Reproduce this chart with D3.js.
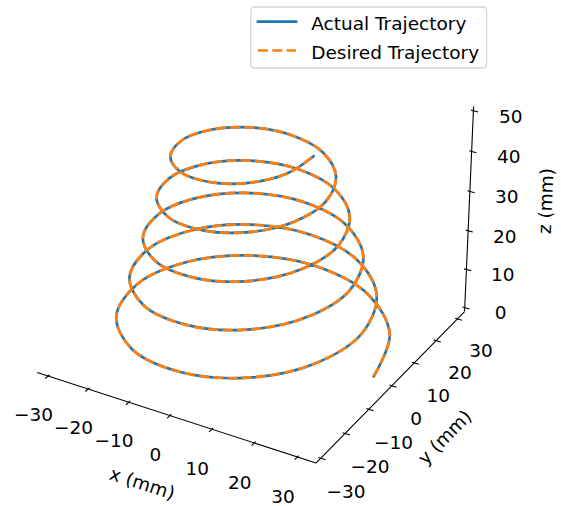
<!DOCTYPE html>
<html>
<head>
<meta charset="utf-8">
<script src="https://cdn.jsdelivr.net/npm/d3@7"></script>
<style>
  body { margin: 0; background: #fff; }
  svg text { font-family: "DejaVu Sans", sans-serif; fill: #000; }
</style>
</head>
<body>
<svg id="chart" width="561" height="506"></svg>
<script>
// trajectory samples, one every 30 degrees of the spiral (mm)
const trajX = [30, 25.76, 14.75, 0, -14.5, -24.9, -28.5, -24.47, -14, 0, 13.75, 23.6,
  27, 23.17, 13.25, 0, -13, -22.3, -25.5, -21.87, -12.5, 0, 12.25, 21,
  24, 20.57, 11.75, 0, -11.5, -19.7, -22.5, -19.27, -11, 0, 10.75, 18.4,
  21, 17.97, 10.25, 0, -10, -17.1, -19.5, -16.67, -9.5, 0, 9.25, 15.8,
  18, 15.37, 8.75, 0, -8.5, -14.51, -16.5, -14.07, -8, 0, 7.75, 13.21, 15];
const trajY = [0, 14.88, 25.55, 29.25, 25.11, 14.38, 0, -14.13, -24.25, -27.75, -23.82, -13.63,
  0, 13.38, 22.95, 26.25, 22.52, 12.88, 0, -12.63, -21.65, -24.75, -21.22, -12.13,
  0, 11.88, 20.35, 23.25, 19.92, 11.38, 0, -11.13, -19.05, -21.75, -18.62, -10.63,
  0, 10.38, 17.75, 20.25, 17.32, 9.88, 0, -9.63, -16.45, -18.75, -16.02, -9.13,
  0, 8.88, 15.16, 17.25, 14.72, 8.38, 0, -8.13, -13.86, -15.75, -13.42, -7.63, 0];
const trajZ = [0, 0.83, 1.67, 2.5, 3.33, 4.17, 5, 5.83, 6.67, 7.5, 8.33, 9.17,
  10, 10.83, 11.67, 12.5, 13.33, 14.17, 15, 15.83, 16.67, 17.5, 18.33, 19.17,
  20, 20.83, 21.67, 22.5, 23.33, 24.17, 25, 25.83, 26.67, 27.5, 28.33, 29.17,
  30, 30.83, 31.67, 32.5, 33.33, 34.17, 35, 35.83, 36.67, 37.5, 38.33, 39.17,
  40, 40.83, 41.67, 42.5, 43.33, 44.17, 45, 45.83, 46.67, 47.5, 48.33, 49.17, 50];

// actual and desired trajectories lie on top of each other in the picture
const seriesNames = ["Actual Trajectory", "Desired Trajectory"];
const seriesColors = ["#1f77b4", "#ff7f0e"];

const xTicks = [-30, -20, -10, 0, 10, 20, 30];
const yTicks = [-30, -20, -10, 0, 10, 20, 30];
const zTicks = [0, 10, 20, 30, 40, 50];
const zRange = [0, 50];
const axisLabels = ["x (mm)", "y (mm)", "z (mm)"];

const fontSize = 18.5;
const lineWidth = 2.7;

// 3d view like matplotlib's default (elev 30, azim -60, perspective)
const elev = 30 * Math.PI / 180, azim = -60 * Math.PI / 180, dist = 10;
const aspect = [4, 4, 3].map(a => a * 1.8294640721620434 / Math.hypot(4, 4, 3));
const w = [Math.cos(elev) * Math.cos(azim), Math.cos(elev) * Math.sin(azim), Math.sin(elev)];
const un = Math.hypot(w[0], w[1]);
const u = [-w[1] / un, w[0] / un, 0];
const v = [w[1] * u[2] - w[2] * u[1], w[2] * u[0] - w[0] * u[2], w[0] * u[1] - w[1] * u[0]];

// screen scale / centre of the projected box
const S = 2795, CX = 254.7, CY = 239.9;

const widen = ([a, b], f) => [a - (b - a) * f, b + (b - a) * f];
const lims = [
  widen(d3.extent(trajX), 0.05),
  widen(d3.extent(trajY), 0.05),
  zRange
].map(l => widen(l, 1 / 48));
const q = lims.map((l, i) => d3.scaleLinear().domain(l).range([-aspect[i] / 2, aspect[i] / 2]));

function project(p) {
  const Q = p.map((c, i) => q[i](c));
  const dot = a => a[0] * Q[0] + a[1] * Q[1] + a[2] * Q[2];
  const d = dist - dot(w);
  return [CX + S * dot(u) / d, CY - S * dot(v) / d];
}

const svg = d3.select("#chart");

// ---- axes ----
const centers = lims.map(l => (l[0] + l[1]) / 2);
const deltas = lims.map(l => (l[1] - l[0]) / 12);

function moveFromCenter(p, c, i) {
  return p.map((val, j) => j === i ? val : val + Math.sign(val - centers[j]) * c * deltas[j]);
}

const axes = [
  {i: 0, ticks: xTicks, edge: [null, lims[1][0], lims[2][0]], tickDir: 1, dy: 0},
  {i: 1, ticks: yTicks, edge: [lims[0][1], null, lims[2][0]], tickDir: 0, dy: 0},
  {i: 2, ticks: zTicks, edge: [lims[0][1], lims[1][1], null], tickDir: 0, dy: 3}
];

const fmt = d3.format("d");
const axisG = svg.append("g");

axes.forEach(a => {
  const at = t => a.edge.map((c, j) => j === a.i ? t : c);
  const p0 = project(at(lims[a.i][0])), p1 = project(at(lims[a.i][1]));

  axisG.append("line")
    .attr("x1", p0[0]).attr("y1", p0[1])
    .attr("x2", p1[0]).attr("y2", p1[1])
    .attr("stroke", "#000").attr("stroke-width", 1.1);

  const td = a.tickDir;
  const out = Math.sign(a.edge[td] - centers[td]) * deltas[td];

  a.ticks.forEach(t => {
    const base = at(t);
    const o = base.slice(); o[td] += 0.2 * out;
    const n = base.slice(); n[td] -= 0.1 * out;
    const po = project(o), pn = project(n);
    axisG.append("line")
      .attr("x1", po[0]).attr("y1", po[1])
      .attr("x2", pn[0]).attr("y2", pn[1])
      .attr("stroke", "#000").attr("stroke-width", 1.1);

    const lp = project(moveFromCenter(base, 1.05, a.i));
    axisG.append("text")
      .attr("x", lp[0])
      .attr("y", lp[1] + 0.74 * fontSize + a.dy)
      .attr("text-anchor", "middle")
      .attr("font-size", fontSize)
      .text(fmt(t));
  });

  // axis title
  const mid = at(centers[a.i]);
  const lp = project(moveFromCenter(mid, 2.2, a.i));
  let ang = Math.atan2(p1[1] - p0[1], p1[0] - p0[0]) * 180 / Math.PI;
  if (ang > 90) ang -= 180;
  if (ang < -90) ang += 180;
  axisG.append("text")
    .attr("transform", `translate(${lp[0]},${lp[1]}) rotate(${ang})`)
    .attr("text-anchor", "middle")
    .attr("dominant-baseline", "central")
    .attr("font-size", fontSize)
    .text(axisLabels[a.i]);
});

// ---- trajectories ----
const pts = trajX.map((x, k) => project([x, trajY[k], trajZ[k]]));
const line = d3.line().curve(d3.curveCatmullRom);

svg.append("path")
  .attr("d", line(pts))
  .attr("fill", "none")
  .attr("stroke", seriesColors[0])
  .attr("stroke-width", lineWidth)
  .attr("stroke-linecap", "square")
  .attr("stroke-linejoin", "round");

svg.append("path")
  .attr("d", line(pts))
  .attr("fill", "none")
  .attr("stroke", seriesColors[1])
  .attr("stroke-width", lineWidth)
  .attr("stroke-dasharray", "10,4.3")
  .attr("stroke-linejoin", "round");

// ---- legend ----
const legLeft = 250.8, legTop = 7, pad = 0.4 * fontSize;
const handleLen = 38, textGap = 15.2, rowStep = 28.8;
const leg = svg.append("g");
const frame = leg.append("rect")
  .attr("x", legLeft).attr("y", legTop)
  .attr("height", 61)
  .attr("rx", 3.6)
  .attr("fill", "#fff").attr("fill-opacity", 0.8)
  .attr("stroke", "#d6d6d6").attr("stroke-width", 1.3);

let maxW = 0;
seriesNames.forEach((name, k) => {
  const y = legTop + 14.7 + k * rowStep;
  const x0 = legLeft + 7.2;
  leg.append("line")
    .attr("x1", x0).attr("x2", x0 + handleLen)
    .attr("y1", y).attr("y2", y)
    .attr("stroke", seriesColors[k])
    .attr("stroke-width", lineWidth)
    .attr("stroke-linecap", k === 0 ? "square" : "butt")
    .attr("stroke-dasharray", k === 0 ? null : "10,4.3");
  const t = leg.append("text")
    .attr("x", x0 + handleLen + textGap)
    .attr("y", y + 8.3)
    .attr("font-size", fontSize)
    .text(name);
  maxW = Math.max(maxW, t.node().getComputedTextLength());
});
frame.attr("width", 7.2 + handleLen + textGap + maxW + pad);
</script>
</body>
</html>
